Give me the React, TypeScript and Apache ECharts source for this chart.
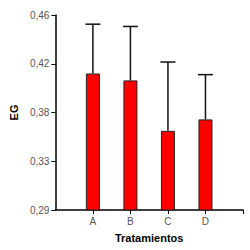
import React, { useEffect, useRef } from "react";
import * as echarts from "echarts";

const categories = ["A", "B", "C", "D"];
const categoryPositions = [1, 2, 3, 4];
const means = [0.409, 0.403, 0.359, 0.369];
const errorTops = [0.452, 0.45, 0.419, 0.408];
const yTickValues = [0.29, 0.3325, 0.375, 0.4175, 0.46];
const yTickLabels = ["0,29", "0,33", "0,38", "0,42", "0,46"];

export default function App() {
  const ref = useRef<HTMLDivElement>(null);
  useEffect(() => {
    if (!ref.current) return;
    const chart = echarts.init(ref.current, null, { renderer: "svg" });
    const font = "'Liberation Sans', Arial, sans-serif";
    chart.setOption({
      animation: false,
      backgroundColor: "#ffffff",
      grid: { left: 53, right: 7, top: 15, bottom: 40, containLabel: false },
      xAxis: {
        type: "value",
        min: 0,
        max: 5,
        name: "Tratamientos",
        nameLocation: "middle",
        nameGap: 22,
        nameTextStyle: { fontFamily: font, fontSize: 11, fontWeight: "bold", color: "#000" },
        splitLine: { show: false },
        axisLine: { show: true, onZero: false, lineStyle: { color: "#000", width: 1.5 } },
        axisTick: { show: true, length: 4, customValues: [1, 2, 3, 4, 5], lineStyle: { color: "#000" } },
        axisLabel: {
          customValues: categoryPositions,
          formatter: (v: number) => categories[categoryPositions.indexOf(Math.round(v))] ?? "",
          fontFamily: font,
          fontSize: 10,
          color: "#555",
          margin: 6,
        },
      },
      yAxis: {
        type: "value",
        min: 0.29,
        max: 0.46,
        name: "EG",
        nameLocation: "middle",
        nameGap: 35,
        nameTextStyle: { fontFamily: font, fontSize: 11, fontWeight: "bold", color: "#000" },
        splitLine: { show: false },
        axisLine: { show: true, lineStyle: { color: "#000", width: 1.5 } },
        axisTick: { show: true, length: 4, customValues: yTickValues, lineStyle: { color: "#000" } },
        axisLabel: {
          customValues: yTickValues,
          formatter: (v: number) => {
            let best = 0;
            for (let i = 0; i < yTickValues.length; i++) {
              if (Math.abs(yTickValues[i] - v) < Math.abs(yTickValues[best] - v)) best = i;
            }
            return yTickLabels[best];
          },
          fontFamily: font,
          fontSize: 10,
          color: "#555",
          margin: 6,
        },
      },
      series: [
        {
          type: "bar",
          data: categoryPositions.map((x, i) => [x, means[i]]),
          barWidth: 14,
          itemStyle: { color: "#ff0000", borderColor: "#222", borderWidth: 1 },
        },
        {
          type: "custom",
          data: categoryPositions.map((x, i) => [x, means[i], errorTops[i]]),
          renderItem: (params: any, api: any) => {
            const x = api.value(0);
            const base = api.coord([x, api.value(1)]);
            const top = api.coord([x, api.value(2)]);
            const half = 7.5;
            return {
              type: "group",
              children: [
                {
                  type: "line",
                  shape: { x1: base[0], y1: base[1], x2: top[0], y2: top[1] },
                  style: { stroke: "#111", lineWidth: 1.5 },
                },
                {
                  type: "line",
                  shape: { x1: top[0] - half, y1: top[1], x2: top[0] + half, y2: top[1] },
                  style: { stroke: "#111", lineWidth: 1.5 },
                },
              ],
            };
          },
          z: 3,
        },
      ],
    });
    return () => chart.dispose();
  }, []);
  return (
    <div
      ref={ref}
      style={{ width: 250, height: 250, position: "fixed", left: 0, top: 0 }}
    />
  );
}
